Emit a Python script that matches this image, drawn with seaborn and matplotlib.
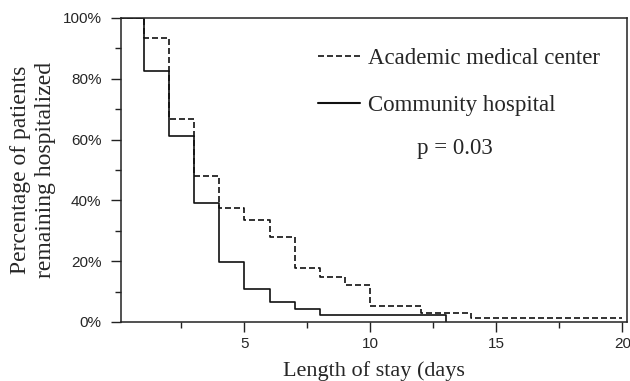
import matplotlib
matplotlib.use("Agg")
import matplotlib.pyplot as plt
import pandas as pd
import seaborn as sns
from matplotlib.lines import Line2D
from matplotlib.ticker import MultipleLocator, PercentFormatter

# Kaplan-Meier style step data (days, % still hospitalized)
academic_days = [0, 1, 2, 3, 4, 5, 6, 7, 8, 9, 10, 12, 14, 20]
academic_pct = [100, 93.4, 66.9, 48.1, 37.4, 33.4, 28.0, 17.6, 14.7, 12.1, 5.3, 2.8, 1.45, 1.45]
community_days = [0, 1, 2, 3, 4, 5, 6, 7, 8, 13]
community_pct = [100, 82.7, 61.0, 39.2, 19.6, 10.9, 6.6, 4.4, 2.2, 0]
groups = ["Academic medical center", "Community hospital"]

df = pd.concat([
    pd.DataFrame({"day": academic_days, "pct": academic_pct, "group": groups[0]}),
    pd.DataFrame({"day": community_days, "pct": community_pct, "group": groups[1]}),
])

sns.set_style("ticks")
plt.rcParams["font.family"] = ["Liberation Sans", "DejaVu Sans"]
serif = ["Liberation Serif", "DejaVu Serif"]

fig = plt.figure(figsize=(6.3, 3.81), dpi=100)
ax = fig.add_axes([0.192, 0.155, 0.803, 0.798])

sns.lineplot(data=df, x="day", y="pct", hue="group", style="group",
             palette={groups[0]: "#111111", groups[1]: "#111111"},
             dashes={groups[0]: (3.6, 1.8), groups[1]: ""},
             drawstyle="steps-post", linewidth=1.2, estimator=None,
             legend=False, ax=ax)

ax.set_xlim(0.1, 20.18)
ax.set_ylim(0, 100)
ax.set_xticks([5, 10, 15, 20])
ax.xaxis.set_minor_locator(MultipleLocator(2.5))
ax.yaxis.set_major_locator(MultipleLocator(20))
ax.yaxis.set_minor_locator(MultipleLocator(10))
ax.yaxis.set_major_formatter(PercentFormatter(decimals=0))
ax.tick_params(which="major", length=7, width=1, labelsize=11, color="#222222")
ax.tick_params(which="minor", length=4, width=1, color="#222222")
ax.tick_params(axis="x", pad=4)
ax.tick_params(axis="y", pad=7)
for s in ax.spines.values():
    s.set_linewidth(1.1)
    s.set_color("#222222")

ax.set_xlabel("Length of stay (days", family=serif, fontsize=16, labelpad=7)
ax.set_ylabel("Percentage of patients\nremaining hospitalized", family=serif,
              fontsize=17, labelpad=5, linespacing=1.2)

# legend drawn by hand with line samples
handles = [Line2D([], [], color="#111111", lw=1.2, dashes=(3.6, 1.8)),
           Line2D([], [], color="#111111", lw=1.5)]
ax.legend(handles, groups, loc="upper left", bbox_to_anchor=(0.389, 0.902),
          frameon=False, prop={"family": serif, "size": 16.5},
          handlelength=1.85, handletextpad=0.36, labelspacing=1.15,
          borderpad=0, borderaxespad=0)
ax.text(0.66, 0.572, "p = 0.03", transform=ax.transAxes, ha="center",
        va="center", family=serif, fontsize=16.5)

fig.savefig("out.png", dpi=100)
